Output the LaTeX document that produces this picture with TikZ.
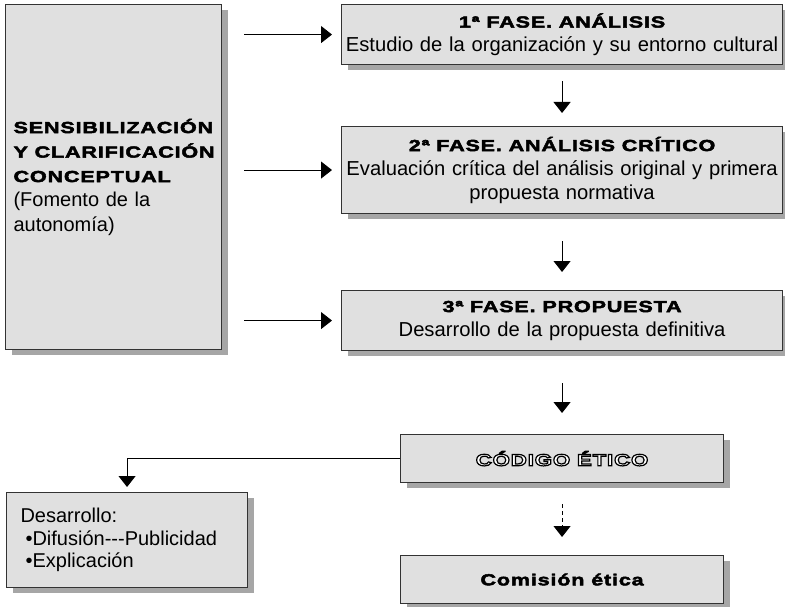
\documentclass[tikz,border=0pt]{standalone}
\usepackage{fontspec}
\setmainfont{Liberation Sans}
\newfontfamily\heavy[FakeBold=3,FakeStretch=1.35,LetterSpace=5]{Liberation Sans Bold}
\newfontfamily\outl[FakeStretch=1.35,LetterSpace=5]{Liberation Sans Bold}
\usetikzlibrary{arrows.meta,shadows}
\newcommand\hv{\heavy\fontsize{16}{24}\selectfont}
\newcommand\outlinetext[1]{{\outl\fontsize{16.5}{24}\selectfont\color{white}\special{pdf:literal direct 0 G 1.2 w 2 Tr}#1\special{pdf:literal direct 0 Tr}}}
\begin{document}
\begin{tikzpicture}[x=1pt,y=-1pt,
  box/.style={draw=black!80, line width=1.1pt, fill=black!12,
    drop shadow={shadow xshift=6pt, shadow yshift=-5pt, fill=black!35, opacity=1},
    anchor=north west, inner sep=0pt, font=\fontsize{20.2}{24}\selectfont},
  arr/.style={line width=1pt, -{Triangle[length=11pt,width=17pt]}},
]
\useasboundingbox (0,0) rectangle (785,607);

\node[box, minimum width=216pt, minimum height=345pt, inner xsep=8pt, text width=200pt, align=left,
  font=\fontsize{20}{24.5}\selectfont] (L) at (5,4)
  {{\heavy\fontsize{16}{24.5}\selectfont SENSIBILIZACIÓN\\Y CLARIFICACIÓN\\CONCEPTUAL}\\(Fomento de la\\autonomía)};

\node[box, minimum width=441pt, minimum height=60pt, text width=441pt, align=center] (P1) at (341,4)
  {{\hv 1ª FASE. ANÁLISIS}\\Estudio de la organización y su entorno cultural};
\node[box, minimum width=441pt, minimum height=87pt, text width=441pt, align=center] (P2) at (341,126)
  {{\hv 2ª FASE. ANÁLISIS CRÍTICO}\\Evaluación crítica del análisis original y primera\\propuesta normativa};
\node[box, minimum width=441pt, minimum height=60pt, text width=441pt, align=center] (P3) at (341,290)
  {{\hv 3ª FASE. PROPUESTA}\\Desarrollo de la propuesta definitiva};

\node[box, minimum width=323pt, minimum height=48pt, text width=323pt, align=center] (C) at (400,434)
  {\outlinetext{CÓDIGO ÉTICO}};
\node[box, minimum width=323pt, minimum height=48pt, text width=323pt, align=center] (K) at (400,555)
  {\hv Comisión ética};

\node[box, minimum width=241pt, minimum height=95pt, inner xsep=14pt, text width=213pt, align=left,
  font=\fontsize{20}{22.5}\selectfont] (D) at (6,492)
  {Desarrollo:\\\hspace*{5pt}•Difusión{-}{-}{-}Publicidad\\\hspace*{5pt}•Explicación};

\draw[arr, shorten <=22pt, shorten >=9pt] (L.east |- P1.west) -- (P1.west);
\draw[arr, shorten <=22pt, shorten >=9pt] (L.east |- P2.west) -- (P2.west);
\draw[arr, shorten <=22pt, shorten >=9pt] (L.east |- P3.west) -- (P3.west);

\draw[arr, shorten <=16pt, shorten >=13pt] (P1.south) -- (P2.north);
\draw[arr, shorten <=27pt, shorten >=18pt] (P2.south) -- (P3.north);
\draw[arr, shorten <=32pt, shorten >=21pt] (P3.south) -- (C.north);
\draw[arr, dash pattern=on 4pt off 3pt, shorten <=21pt, shorten >=18pt] (C.south) -- (K.north);
\draw[arr, shorten >=5pt] (C.west) -| (D.north);
\end{tikzpicture}
\end{document}
